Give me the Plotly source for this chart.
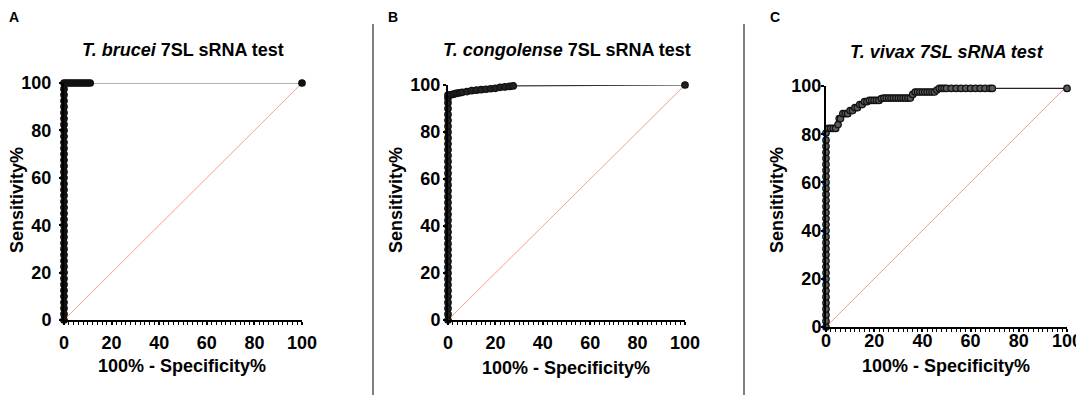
import plotly.graph_objects as go

OFF = 8                      # page body margin in the browser
W, H = 1084 - OFF, 396 - OFF

# ---- data (100% - Specificity%, Sensitivity%) ----
A_fpr = [0, 0, 0, 0, 0, 0, 0, 0, 0, 0, 0, 0, 0, 0, 0, 0, 0, 0, 0, 0, 0,
         0, 0, 0, 0, 0, 0, 0, 0, 0, 0, 0, 0, 0, 0, 0, 0, 0, 0, 0, 0,
         1, 2, 3, 4, 5, 6, 7, 8, 9, 10, 11, 100]
A_sens = [0, 2.5, 5, 7.5, 10, 12.5, 15, 17.5, 20, 22.5, 25, 27.5, 30, 32.5, 35, 37.5, 40, 42.5, 45, 47.5, 50,
          52.5, 55, 57.5, 60, 62.5, 65, 67.5, 70, 72.5, 75, 77.5, 80, 82.5, 85, 87.5, 90, 92.5, 95, 97.5, 100,
          100, 100, 100, 100, 100, 100, 100, 100, 100, 100, 100, 100]

B_fpr = [0, 0, 0, 0, 0, 0, 0, 0, 0, 0, 0, 0, 0, 0, 0, 0, 0, 0, 0, 0,
         0, 0, 0, 0, 0, 0, 0, 0, 0, 0, 0, 0, 0, 0, 0, 0, 0, 0, 0, 0,
         1, 2, 3, 4, 5, 6, 8, 10, 12, 14, 16, 18, 20, 22, 24, 26, 27.5, 100]
B_sens = [0, 2.5, 5, 7.5, 10, 12.5, 15, 17.5, 20, 22.5, 25, 27.5, 30, 32.5, 35, 37.5, 40, 42.5, 45, 47.5,
          50, 52.5, 55, 57.5, 60, 62.5, 65, 67.5, 70, 72.5, 75, 77.5, 80, 82.5, 85, 87.5, 90, 92.5, 94.5, 95.7,
          95.8, 96, 96.3, 96.5, 96.7, 96.9, 97.2, 97.6, 97.8, 98, 98.2, 98.4, 98.6, 99, 99.2, 99.4, 99.6, 100]

C_fpr = [0, 0, 0, 0, 0, 0, 0, 0, 0, 0, 0, 0, 0, 0, 0, 0, 0, 0, 0, 0, 0, 0, 0, 0, 0, 0, 0, 0, 0, 0, 0, 0, 0,
         1, 2, 3, 4, 5, 5.5, 6, 7, 8, 9, 10, 11, 12, 13, 14, 15, 16, 17, 18, 19, 20, 21, 22, 23,
         24, 25, 26, 27, 28, 29, 30, 31, 32, 33, 34, 35, 36, 37, 38, 39, 40, 41, 42, 43, 44, 45, 46, 47,
         48, 49, 50, 52, 54, 56, 58, 60, 62, 64, 66, 68, 69, 100]
C_sens = [0, 2.5, 5, 7.5, 10, 12.5, 15, 17.5, 20, 22.5, 25, 27.5, 30, 32.5, 35, 37.5, 40, 42.5, 45, 47.5,
          50, 52.5, 55, 57.5, 60, 62.5, 65, 67.5, 70, 72.5, 75, 77.5, 80.5,
          82.4, 82.4, 82.4, 82.4, 84, 86.5, 86.5, 88.5, 88.5, 88.5, 89.8, 89.8, 91, 91, 92.3, 92.3, 93.5, 93.5, 94, 94, 94, 94, 94, 94.8,
          95, 95, 95, 95, 95, 95, 95, 95, 95, 95, 95, 95, 96.5, 97.5, 97.5, 97.5, 97.5, 97.5, 97.5, 97.5, 97.5, 97.5, 98.3, 99,
          99, 99, 99, 99, 99, 99, 99, 99, 99, 99, 99, 99, 99, 99, 100]

diag_x = [0, 100]
diag_y = [0, 100]
ticks = [0, 20, 40, 60, 80, 100]

panels = [
    dict(fpr=A_fpr, sens=A_sens, x0=64, x1=302, y0=83, y1=320, standoff=2, ystand=4,
         mfill="#111111", lcol="#666666",
         title="<i>T. brucei</i> 7SL sRNA test", tx=183, ty=50, xt=(182, 366), yt=(17, 200), letter="A", lx=14),
    dict(fpr=B_fpr, sens=B_sens, x0=448, x1=685, y0=85, y1=320, standoff=2, ystand=-1,
         mfill="#222222", lcol="#333333",
         title="<i>T. congolense</i> 7SL sRNA test", tx=567, ty=50, xt=(566, 368), yt=(396, 200), letter="B", lx=393),
    dict(fpr=C_fpr, sens=C_sens, x0=826, x1=1067, y0=86, y1=327, standoff=-7, ystand=-4,
         mfill="#5a5a5a", lcol="#222222",
         title="<i>T. vivax 7SL sRNA test</i>", tx=947, ty=52, xt=(946, 366), yt=(777, 200), letter="C", lx=775),
]

FONT = "Liberation Sans, Arial, sans-serif"


def px(x):
    return (x - OFF) / W


def py(y):
    return 1 - (y - OFF) / H


fig = go.Figure()
annotations = []
shapes = []

for i, p in enumerate(panels):
    n = "" if i == 0 else str(i + 1)
    xa, ya = "x" + n, "y" + n
    fig.add_trace(go.Scatter(x=diag_x, y=diag_y, mode="lines", xaxis=xa, yaxis=ya,
                             line=dict(color="#f4a090", width=1), showlegend=False, cliponaxis=False))
    fig.add_trace(go.Scatter(x=p["fpr"], y=p["sens"], mode="lines+markers", xaxis=xa, yaxis=ya,
                             line=dict(color=p["lcol"], width=1.2),
                             marker=dict(size=6.5, color=p["mfill"], line=dict(color="#111111", width=1.2)),
                             showlegend=False, cliponaxis=False))
    axcommon = dict(range=[0, 100], tickvals=ticks, showgrid=False, zeroline=False,
                    showline=True, linecolor="black", linewidth=2, automargin=False,
                    ticks="outside", ticklen=3, tickwidth=1.5, tickcolor="black",
                    tickfont=dict(family=FONT, size=18, color="black", weight="bold"),
                    fixedrange=True)
    fig.update_layout(**{
        ("xaxis" + n): dict(domain=[px(p["x0"]), px(p["x1"])], anchor=ya,
                            ticklabelstandoff=p["standoff"],
                            minor=dict(dtick=2, ticks="outside", ticklen=3, tickcolor="black", tickwidth=1.2),
                            **axcommon),
        ("yaxis" + n): dict(domain=[py(p["y1"]), py(p["y0"])], anchor=xa,
                            ticklabelstandoff=p["ystand"], **axcommon),
    })
    annotations.append(dict(text=p["title"], x=px(p["tx"]), y=py(p["ty"]), xref="paper", yref="paper",
                            showarrow=False, xanchor="center", yanchor="middle",
                            font=dict(family=FONT, size=18, color="black", weight="bold")))
    annotations.append(dict(text="100% - Specificity%", x=px(p["xt"][0]), y=py(p["xt"][1]),
                            xref="paper", yref="paper", showarrow=False, xanchor="center", yanchor="middle",
                            font=dict(family=FONT, size=18, color="black", weight="bold")))
    annotations.append(dict(text="Sensitivity%", x=px(p["yt"][0]), y=py(p["yt"][1]), textangle=-90,
                            xref="paper", yref="paper", showarrow=False, xanchor="center", yanchor="middle",
                            borderpad=0,
                            font=dict(family=FONT, size=18, color="black", weight="bold")))
    annotations.append(dict(text=p["letter"], x=px(p["lx"]), y=1,
                            xref="paper", yref="paper", showarrow=False, xanchor="center", yanchor="top",
                            borderpad=0,
                            font=dict(family=FONT, size=14, color="black", weight="bold")))

for sx in [373, 744]:
    shapes.append(dict(type="line", xref="paper", yref="paper", x0=px(sx), x1=px(sx),
                       y0=py(395), y1=py(24), line=dict(color="#555555", width=1.5)))

fig.update_layout(width=W, height=H, margin=dict(l=0, r=0, t=0, b=0, autoexpand=False),
                  plot_bgcolor="white", paper_bgcolor="white",
                  annotations=annotations, shapes=shapes)

fig.write_html("out.html")
